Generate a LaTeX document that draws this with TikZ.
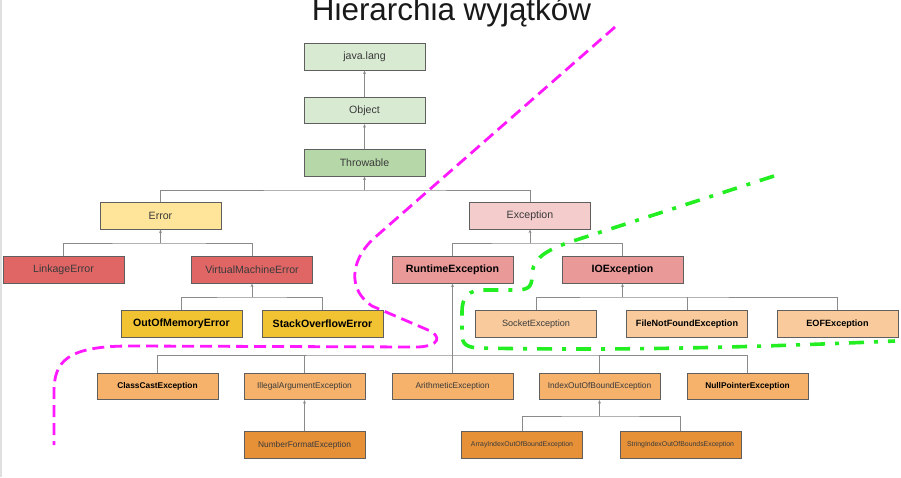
\documentclass[tikz,border=0pt]{standalone}
\usepackage{fontspec}
\setmainfont{Liberation Sans}
\usetikzlibrary{arrows.meta}
\definecolor{cgreenL}{HTML}{D9EAD3}
\definecolor{cgreenM}{HTML}{B6D7A8}
\definecolor{cyellowL}{HTML}{FFE599}
\definecolor{cyellowD}{HTML}{F1C232}
\definecolor{credM}{HTML}{E06666}
\definecolor{credL}{HTML}{F4CCCC}
\definecolor{credS}{HTML}{EA9999}
\definecolor{corangeL}{HTML}{F9CB9C}
\definecolor{corangeM}{HTML}{F6B26B}
\definecolor{corangeD}{HTML}{E69138}
\definecolor{boxline}{HTML}{5F5F5F}
\definecolor{connline}{HTML}{8A8A8A}
\definecolor{txt}{HTML}{3A3A3A}
\definecolor{mag}{HTML}{FF19FF}
\definecolor{grn}{HTML}{22EE22}
\begin{document}
\begin{tikzpicture}[x=1pt,y=-1pt,
  box/.style={draw=boxline, line width=0.8pt, minimum width=121pt, minimum height=26.5pt, inner sep=0pt, text=txt},
  fa/.style={font=\fontsize{10.6}{12}\selectfont},
  fab/.style={font=\fontsize{10.6}{12}\selectfont\bfseries, text=black},
  fb/.style={font=\fontsize{9.1}{11}\selectfont},
  fbb/.style={font=\fontsize{9.1}{11}\selectfont\bfseries, text=black},
  fc/.style={font=\fontsize{8.35}{10}\selectfont},
  fcb/.style={font=\fontsize{8.35}{10}\selectfont\bfseries, text=black},
  fd/.style={font=\fontsize{6.9}{8}\selectfont},
  conn/.style={draw=connline, line width=0.8pt},
  arr/.style={conn, -{Stealth[length=3.5pt,width=3pt]}},
  magline/.style={draw=mag, line width=2.8pt, dash pattern=on 12pt off 6pt},
  grnline/.style={draw=grn, line width=3.6pt, dash pattern=on 15pt off 10pt on 4pt off 10pt}
]
\useasboundingbox[fill=white] (0,0) rectangle (901,477);
\fill[black!12] (0,0) rectangle (2,477);

% title
\node[anchor=base, font=\fontsize{31.4}{36}\selectfont, text=black!90, inner sep=0pt] (title) at (451.5,20) {Hierarchia wyjątków};

% nodes
\node[box, fa, fill=cgreenL] (javalang) at (364.5,57) {java.lang};
\node[box, fa, fill=cgreenL] (object) at (364.5,110.5) {Object};
\node[box, fa, fill=cgreenM] (throwable) at (364.5,163) {Throwable};
\node[box, fa, fill=cyellowL] (error) at (160.5,216) {Error};
\node[box, fa, fill=credL] (exception) at (530,216) {Exception};
\node[box, fa, fill=credM] (linkage) at (63.5,270) {LinkageError};
\node[box, fa, fill=credM] (vme) at (252,270) {VirtualMachineError};
\node[box, fab, fill=cyellowD] (oom) at (181.5,324) {OutOfMemoryError};
\node[box, fab, fill=cyellowD] (soe) at (322.5,324) {StackOverflowError};
\node[box, fab, fill=credS] (runtime) at (452.5,270) {RuntimeException};
\node[box, fab, fill=credS] (ioexc) at (622.5,270) {IOException};
\node[box, fb, fill=corangeL] (socket) at (536,324) {SocketException};
\node[box, fbb, fill=corangeL] (fnf) at (687,324) {FileNotFoundException};
\node[box, fbb, fill=corangeL] (eof) at (837.5,324) {EOFException};
\node[box, fcb, fill=corangeM] (classcast) at (157.5,386.5) {ClassCastException};
\node[box, fc, fill=corangeM] (illegal) at (304.5,386.5) {IllegalArgumentException};
\node[box, fc, fill=corangeM] (arith) at (452.5,386.5) {ArithmeticException};
\node[box, fc, fill=corangeM] (ioob) at (599.5,386.5) {IndexOutOfBoundException};
\node[box, fcb, fill=corangeM] (npe) at (747.5,386.5) {NullPointerException};
\node[box, fc, fill=corangeD] (numfmt) at (304.5,445) {NumberFormatException};
\node[box, fd, fill=corangeD] (arrayidx) at (522,445) {ArrayIndexOutOfBoundException};
\node[box, fd, fill=corangeD] (stridx) at (680.5,445) {StringIndexOutOfBoundsException};

% bus coordinates
\coordinate (b1) at (364.5,190);
\coordinate (b2) at (160.5,243);
\coordinate (b3) at (252,297);
\coordinate (b4) at (530,243);
\coordinate (b5) at (622.5,297);
\coordinate (b6) at (452.5,355);
\coordinate (b7) at (599.5,416);

% connectors
\draw[arr] (object) -- (javalang);
\draw[arr] (throwable) -- (object);
\draw[conn] (error.north) |- (b1) -| (exception.north);
\draw[arr] (b1) -- (throwable.south);
\draw[conn] (linkage.north) |- (b2) -| (vme.north);
\draw[arr] (b2) -- (error.south);
\draw[conn] (oom.north) |- (b3) -| (soe.north);
\draw[arr] (b3) -- (vme.south);
\draw[conn] (runtime.north) |- (b4) -| (ioexc.north);
\draw[arr] (b4) -- (exception.south);
\draw[conn] (socket.north) |- (b5) -| (eof.north);
\draw[conn] (fnf.north) -- (fnf.north |- b5);
\draw[arr] (b5) -- (ioexc.south);
\draw[conn] (classcast.north) |- (b6) -| (npe.north);
\draw[conn] (illegal.north) -- (illegal.north |- b6);
\draw[conn] (arith.north) -- (b6);
\draw[conn] (ioob.north) -- (ioob.north |- b6);
\draw[arr] (b6) -- (runtime.south);
\draw[arr] (numfmt) -- (illegal);
\draw[conn] (arrayidx.north) |- (b7) -| (stridx.north);
\draw[arr] (b7) -- (ioob.south);

% magenta dashed curve
\draw[magline] (615,27) -- (372,240) .. controls (350,262) and (348,290) .. (372,306)
  -- (428,330) .. controls (442,336) and (440,346) .. (418,347)
  -- (130,346) .. controls (66,346) and (54,362) .. (54,392) -- (54,445);

% green dash-dot curve
\draw[grnline] (774,176) -- (570,242) .. controls (540,252) and (532,262) .. (532,276)
  .. controls (532,287) and (528,290) .. (516,290) -- (484,290)
  .. controls (468,290) and (462,297) .. (462,312) -- (462,334)
  .. controls (462,344) and (466,348) .. (482,348)
  .. controls (620,351) and (760,347) .. (895,341);
\end{tikzpicture}
\end{document}
